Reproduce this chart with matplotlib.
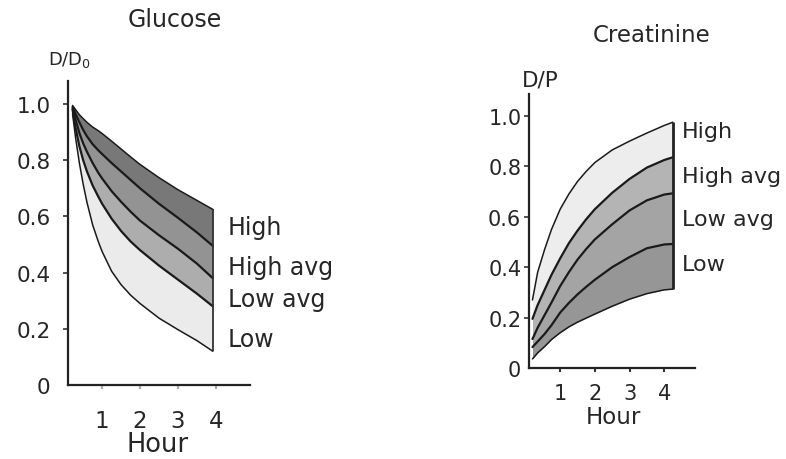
import matplotlib
matplotlib.use("Agg")
import matplotlib.pyplot as plt

# ---------------- data ----------------
# Glucose (D/D0) boundaries, from top to bottom
glu_hours = [0.22, 0.3, 0.4, 0.5, 0.6, 0.75, 0.9, 1.0, 1.25, 1.5, 1.75, 2, 2.5, 3, 3.5, 3.92]
glu_top = [0.995, 0.98, 0.962, 0.948, 0.935, 0.918, 0.905, 0.895, 0.868, 0.84, 0.812, 0.785, 0.738, 0.695, 0.657, 0.625]
glu_line2 = [0.99, 0.965, 0.935, 0.908, 0.885, 0.857, 0.835, 0.822, 0.79, 0.76, 0.73, 0.70, 0.645, 0.595, 0.543, 0.495]
glu_line3 = [0.985, 0.945, 0.897, 0.86, 0.83, 0.79, 0.755, 0.735, 0.69, 0.652, 0.617, 0.585, 0.533, 0.485, 0.432, 0.38]
glu_line4 = [0.98, 0.915, 0.85, 0.80, 0.76, 0.71, 0.67, 0.645, 0.592, 0.548, 0.511, 0.48, 0.425, 0.375, 0.325, 0.28]
glu_bottom = [0.965, 0.88, 0.79, 0.715, 0.65, 0.57, 0.51, 0.475, 0.405, 0.357, 0.32, 0.29, 0.238, 0.197, 0.158, 0.12]

# Creatinine (D/P) boundaries, from top to bottom
cre_hours = [0.2, 0.35, 0.55, 0.75, 1, 1.25, 1.5, 1.75, 2, 2.5, 3, 3.5, 4, 4.25]
cre_top = [0.27, 0.38, 0.47, 0.55, 0.63, 0.69, 0.74, 0.78, 0.815, 0.865, 0.90, 0.932, 0.962, 0.975]
cre_line2 = [0.195, 0.25, 0.31, 0.37, 0.435, 0.495, 0.545, 0.59, 0.63, 0.695, 0.75, 0.795, 0.825, 0.836]
cre_line3 = [0.115, 0.16, 0.21, 0.26, 0.325, 0.38, 0.43, 0.472, 0.51, 0.57, 0.625, 0.665, 0.688, 0.693]
cre_line4 = [0.083, 0.105, 0.135, 0.17, 0.22, 0.258, 0.292, 0.322, 0.35, 0.40, 0.44, 0.475, 0.49, 0.492]
cre_bottom = [0.036, 0.06, 0.085, 0.113, 0.14, 0.163, 0.182, 0.198, 0.214, 0.245, 0.273, 0.295, 0.31, 0.313]

band_labels = ["High", "High avg", "Low avg", "Low"]
x_ticks = [1, 2, 3, 4]
x_ticklabels = ["1", "2", "3", "4"]
y_ticks = [0, 0.2, 0.4, 0.6, 0.8, 1.0]
y_ticklabels = ["0", "0.2", "0.4", "0.6", "0.8", "1.0"]

# ---------------- figure ----------------
W, H = 786, 460
fig = plt.figure(figsize=(W / 100, H / 100), dpi=100)
plt.rcParams["font.family"] = ["DejaVu Sans"]
TXT = "#262626"


def rect(l, t, r, b):
    return [l / W, 1 - b / H, (r - l) / W, (b - t) / H]


def ftext(x, y, s, size, ha="center", va="center"):
    fig.text(x / W, 1 - y / H, s, fontsize=size, ha=ha, va=va, color=TXT)


def style_axes(ax, xlim, ylim, ytick_pad, xtick_pad, ytick_size, xtick_size, xtick_color):
    ax.set_xlim(*xlim)
    ax.set_ylim(*ylim)
    for s in ["top", "right"]:
        ax.spines[s].set_visible(False)
    for s in ["left", "bottom"]:
        ax.spines[s].set_linewidth(1.6)
        ax.spines[s].set_color("#222222")
    ax.set_xticks(x_ticks)
    ax.set_xticklabels(x_ticklabels, fontsize=xtick_size, color=TXT)
    ax.set_yticks(y_ticks)
    ax.set_yticklabels(y_ticklabels, fontsize=ytick_size, color=TXT)
    ax.tick_params(axis="y", direction="out", length=3.5, width=1.2,
                   color="#333333", pad=ytick_pad)
    ax.tick_params(axis="x", direction="out", length=3, width=1.5,
                   color=xtick_color, pad=xtick_pad)
    ax.yaxis.get_major_ticks()[0].tick1line.set_visible(False)
    ax.patch.set_alpha(0)


# ---------------- Glucose ----------------
ax1 = fig.add_axes(rect(68, 82, 250, 386))
glu_curves = [glu_top, glu_line2, glu_line3, glu_line4, glu_bottom]
glu_fills = ["#787878", "#939393", "#adadad", "#ebebeb"]
for i, c in enumerate(glu_fills):
    ax1.fill_between(glu_hours, glu_curves[i + 1], glu_curves[i], color=c, lw=0)
for i, cur in enumerate(glu_curves):
    lw = 1.1 if i in (0, 4) else 1.6
    ax1.plot(glu_hours, cur, color="#1a1a1a", lw=lw, solid_capstyle="round",
             solid_joinstyle="round")
ax1.vlines(glu_hours[-1], glu_bottom[-1], glu_top[-1], color="#333333", lw=1.3)
style_axes(ax1, (0.1, 4.9), (0, 1.082), ytick_pad=9, xtick_pad=14,
           ytick_size=15.5, xtick_size=16.5, xtick_color="#aaaaaa")

ftext(175, 20, "Glucose", 17)
ftext(70, 60, "D/D$_\\mathregular{0}$", 13)
ftext(158, 445, "Hour", 18.5)
for lab, y in zip(band_labels, [228, 268, 300, 340]):
    ftext(228, y, lab, 17, ha="left")

# ---------------- Creatinine ----------------
ax2 = fig.add_axes(rect(529, 95, 695, 369))
cre_curves = [cre_top, cre_line2, cre_line3, cre_line4, cre_bottom]
cre_fills = ["#ededed", "#b4b4b4", "#a4a4a4", "#969696"]
for i, c in enumerate(cre_fills):
    ax2.fill_between(cre_hours, cre_curves[i + 1], cre_curves[i], color=c, lw=0)
for i, cur in enumerate(cre_curves):
    lw = 1.1 if i in (0, 4) else 1.6
    ax2.plot(cre_hours, cur, color="#1a1a1a", lw=lw, solid_capstyle="round",
             solid_joinstyle="round")
ax2.vlines(cre_hours[-1], cre_bottom[-1], cre_top[-1], color="#222222", lw=2.0)
style_axes(ax2, (0.1, 4.89), (0, 1.087), ytick_pad=2, xtick_pad=8,
           ytick_size=15, xtick_size=15, xtick_color="#333333")

ftext(652, 35, "Creatinine", 16.5)
ftext(540, 80, "D/P", 15.5)
ftext(613, 418, "Hour", 16.5)
for lab, y in zip(band_labels, [132, 177, 220, 265]):
    ftext(682, y, lab, 16, ha="left")

fig.savefig("out.png", dpi=100)
